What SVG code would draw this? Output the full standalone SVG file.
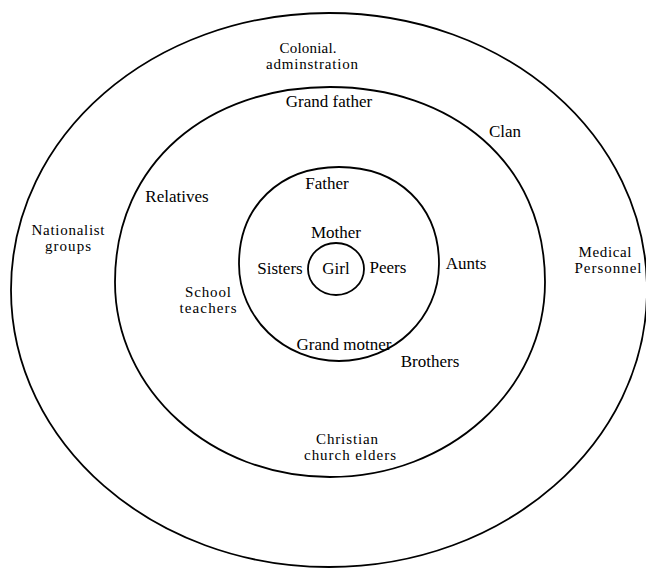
<svg xmlns="http://www.w3.org/2000/svg" width="646" height="568" viewBox="0 0 646 568">
<style>
.ring{fill:none;stroke:#000;stroke-width:1.8}
text{font-family:"Liberation Serif","Times New Roman",serif;font-size:17px;fill:#000;text-anchor:middle}
.two{font-size:15px}
</style>
<rect width="646" height="568" fill="#fff"/>
<g id="outer-ring">
<path class="ring" d="M11,290 C11,135 153,13 329,13 C505,13 647,135 647,290 C647,443 505,567 329,567 C153,567 11,443 11,290 Z"/>
</g>
<g id="middle-ring">
<path class="ring" d="M115,282 C115,162 209,87 330,87 C451,87 545,162 545,282 C545,390 449,477 330,477 C211,477 115,390 115,282 Z"/>
</g>
<g id="inner-ring">
<path class="ring" d="M239,264 C239,206 280,167 339,167 C398,167 439,206 439,264 C439,318 394,361 339,361 C284,361 239,318 239,264 Z"/>
</g>
<g id="girl">
<ellipse class="ring" cx="336" cy="269" rx="28" ry="26"/>
<text x="336" y="274">Girl</text>
</g>
<g id="colonial-administration">
<text class="two" x="308" y="53" textLength="57">Colonial.</text>
<text class="two" x="312" y="69" textLength="92">adminstration</text>
</g>
<g id="grand-father"><text x="329" y="107">Grand father</text></g>
<g id="clan"><text x="505" y="137">Clan</text></g>
<g id="father"><text x="327" y="189">Father</text></g>
<g id="relatives"><text x="177" y="202">Relatives</text></g>
<g id="nationalist-groups">
<text class="two" x="68" y="235" textLength="73">Nationalist</text>
<text class="two" x="68" y="251" textLength="46">groups</text>
</g>
<g id="mother"><text x="336" y="238">Mother</text></g>
<g id="medical-personnel">
<text class="two" x="605" y="257" textLength="53">Medical</text>
<text class="two" x="608" y="273" textLength="67">Personnel</text>
</g>
<g id="sisters"><text x="280" y="274">Sisters</text></g>
<g id="peers"><text x="388" y="273">Peers</text></g>
<g id="aunts"><text x="466" y="269">Aunts</text></g>
<g id="school-teachers">
<text class="two" x="208" y="297" textLength="46">School</text>
<text class="two" x="208" y="313" textLength="57">teachers</text>
</g>
<g id="grand-mother"><text x="344" y="350">Grand motner</text></g>
<g id="brothers"><text x="430" y="367">Brothers</text></g>
<g id="christian-church-elders">
<text class="two" x="347" y="444" textLength="62">Christian</text>
<text class="two" x="350" y="460" textLength="92">church elders</text>
</g>
<g id="connectors"></g>
</svg>
